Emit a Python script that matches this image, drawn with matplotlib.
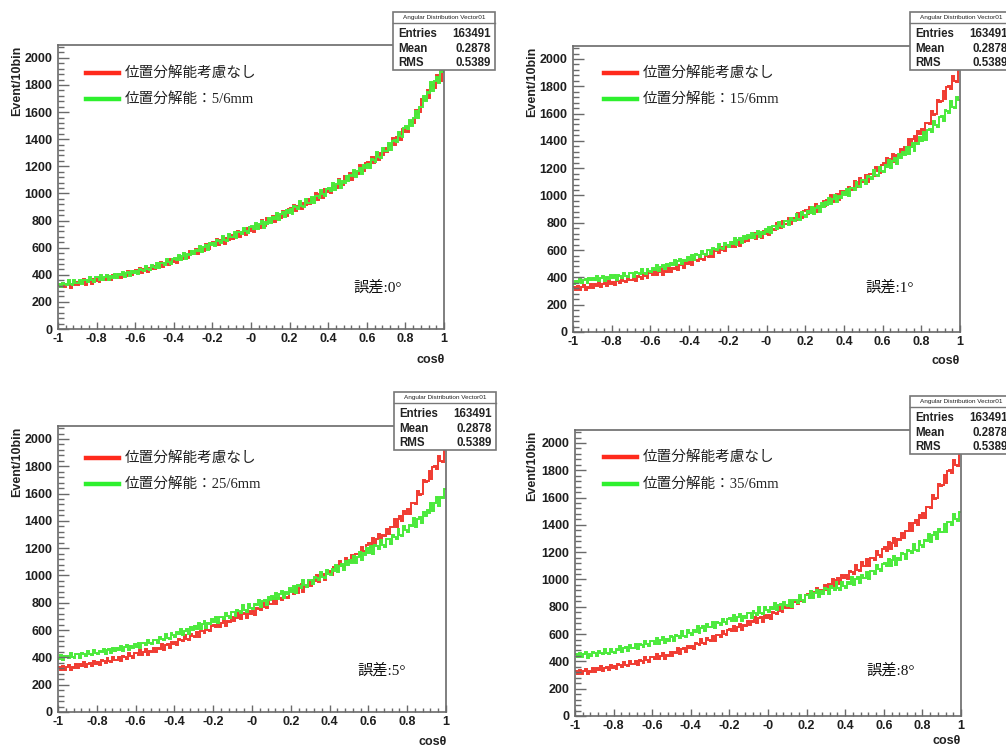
import numpy as np
import matplotlib
matplotlib.use("Agg")
import matplotlib.pyplot as plt
from matplotlib.patches import Rectangle
from matplotlib.lines import Line2D
from matplotlib.ticker import FixedLocator, FixedFormatter, MultipleLocator

W, H = 1006, 748

# cos(theta) binning: 200 bins between -1 and 1
bin_edges = np.linspace(-1.0, 1.0, 201)

# counts per bin, no position-resolution smearing (same in every panel)
no_resolution = [
    328, 310, 340, 307, 329, 344, 306, 333, 322, 348, 322, 348, 338, 366, 328, 355, 362, 334, 371, 354,
    368, 345, 379, 371, 360, 398, 370, 363, 400, 382, 378, 406, 373, 407, 405, 391, 429, 407, 398, 430,
    435, 416, 451, 416, 442, 459, 419, 449, 439, 468, 442, 472, 464, 496, 457, 489, 499, 470, 514, 496,
    516, 490, 535, 526, 517, 564, 534, 527, 575, 555, 552, 588, 550, 593, 592, 577, 624, 600, 591, 631,
    639, 619, 661, 622, 654, 676, 630, 669, 658, 695, 664, 699, 688, 726, 679, 715, 726, 691, 742, 721,
    743, 713, 765, 757, 746, 802, 767, 760, 816, 793, 790, 832, 788, 838, 837, 820, 874, 846, 835, 883,
    891, 868, 917, 872, 909, 935, 882, 926, 914, 957, 923, 966, 956, 1001, 949, 993, 1009, 970, 1030, 1008,
    1035, 1003, 1063, 1054, 1042, 1107, 1068, 1061, 1126, 1102, 1101, 1151, 1101, 1161, 1161, 1144, 1209, 1179, 1168, 1224,
    1235, 1212, 1271, 1222, 1268, 1301, 1244, 1297, 1286, 1338, 1302, 1358, 1352, 1412, 1355, 1413, 1437, 1396, 1474, 1453,
    1489, 1452, 1531, 1529, 1523, 1618, 1588, 1598, 1698, 1686, 1690, 1765, 1704, 1792, 1799, 1781, 1876, 1841, 1833, 1916,
]

# counts per bin with position resolution 5/6 mm (error 0 deg)
res_5_6mm = [
    333, 309, 343, 334, 323, 360, 332, 324, 361, 342, 337, 365, 330, 364, 360, 346, 382, 360, 349, 381,
    383, 365, 395, 362, 384, 399, 361, 388, 377, 403, 378, 404, 395, 423, 386, 413, 421, 393, 431, 414,
    430, 405, 444, 436, 426, 468, 439, 432, 475, 456, 452, 485, 449, 488, 486, 473, 515, 493, 483, 520,
    527, 508, 548, 511, 541, 562, 520, 555, 545, 579, 551, 585, 576, 612, 570, 605, 617, 586, 634, 616,
    637, 609, 657, 649, 638, 689, 656, 649, 701, 679, 676, 714, 672, 717, 715, 698, 748, 721, 710, 753,
    760, 738, 783, 740, 774, 798, 748, 789, 777, 817, 783, 823, 813, 855, 806, 846, 860, 824, 880, 859,
    884, 851, 907, 897, 884, 944, 906, 898, 958, 933, 930, 976, 928, 983, 982, 964, 1024, 994, 982, 1034,
    1043, 1020, 1074, 1027, 1068, 1098, 1043, 1092, 1080, 1127, 1092, 1137, 1127, 1176, 1121, 1169, 1186, 1145, 1210, 1187,
    1218, 1186, 1252, 1245, 1235, 1307, 1268, 1263, 1334, 1311, 1311, 1371, 1319, 1390, 1394, 1379, 1455, 1425, 1416, 1484,
    1499, 1474, 1545, 1495, 1555, 1606, 1556, 1636, 1640, 1718, 1679, 1750, 1743, 1820, 1754, 1829, 1862, 1816, 1918, 1894,
]

# counts per bin with position resolution 15/6 mm (error 1 deg)
res_15_6mm = [
    352, 377, 367, 394, 356, 382, 389, 360, 397, 379, 398, 380, 409, 376, 397, 412, 373, 400, 388, 414,
    392, 419, 384, 417, 413, 398, 434, 411, 400, 431, 429, 406, 441, 433, 423, 461, 434, 427, 465, 447,
    437, 466, 457, 488, 448, 479, 488, 458, 501, 482, 505, 488, 524, 490, 518, 537, 498, 530, 521, 552,
    531, 566, 527, 569, 567, 551, 597, 572, 562, 601, 600, 574, 618, 609, 599, 646, 615, 608, 655, 635,
    624, 659, 648, 686, 639, 675, 686, 651, 702, 681, 708, 687, 728, 687, 718, 740, 693, 731, 719, 755,
    730, 771, 726, 775, 773, 755, 808, 779, 767, 814, 813, 782, 833, 824, 812, 867, 831, 823, 878, 854,
    842, 884, 872, 917, 864, 907, 922, 882, 942, 918, 952, 930, 980, 935, 974, 1001, 949, 995, 983, 1027,
    1000, 1049, 998, 1057, 1056, 1038, 1102, 1071, 1059, 1114, 1115, 1083, 1143, 1134, 1122, 1187, 1148, 1141, 1206, 1182,
    1171, 1220, 1210, 1262, 1204, 1255, 1274, 1231, 1301, 1276, 1318, 1294, 1356, 1305, 1353, 1388, 1328, 1385, 1374, 1429,
    1400, 1462, 1407, 1481, 1485, 1467, 1547, 1514, 1505, 1575, 1581, 1544, 1623, 1616, 1605, 1690, 1645, 1640, 1725, 1698,
]

# counts per bin with position resolution 25/6 mm (error 5 deg)
res_25_6mm = [
    387, 414, 379, 412, 408, 393, 429, 406, 395, 426, 423, 399, 433, 424, 413, 450, 422, 414, 451, 432,
    422, 447, 437, 464, 426, 452, 459, 430, 467, 449, 470, 451, 485, 449, 475, 492, 451, 481, 470, 499,
    477, 508, 471, 508, 505, 490, 531, 507, 496, 531, 530, 504, 547, 538, 527, 574, 542, 535, 581, 561,
    550, 583, 572, 607, 563, 597, 607, 575, 621, 602, 629, 608, 650, 609, 641, 663, 617, 655, 644, 680,
    656, 694, 652, 697, 695, 678, 728, 701, 690, 733, 732, 700, 750, 740, 727, 781, 744, 735, 789, 764,
    753, 792, 781, 822, 772, 811, 824, 787, 842, 820, 851, 827, 875, 828, 865, 890, 836, 880, 866, 908,
    879, 924, 874, 928, 925, 906, 964, 933, 919, 970, 969, 935, 992, 981, 966, 1029, 987, 978, 1040, 1014,
    1002, 1045, 1033, 1080, 1023, 1069, 1084, 1041, 1104, 1079, 1114, 1089, 1146, 1095, 1139, 1170, 1111, 1162, 1149, 1199,
    1168, 1217, 1161, 1221, 1218, 1196, 1261, 1225, 1210, 1266, 1267, 1229, 1295, 1285, 1270, 1342, 1297, 1288, 1360, 1331,
    1318, 1373, 1361, 1420, 1355, 1411, 1432, 1384, 1462, 1434, 1482, 1458, 1530, 1476, 1532, 1574, 1510, 1576, 1566, 1630,
]

# counts per bin with position resolution 35/6 mm (error 8 deg)
res_35_6mm = [
    453, 434, 464, 430, 452, 466, 428, 454, 443, 468, 463, 439, 473, 464, 453, 490, 462, 454, 491, 472,
    462, 490, 480, 510, 469, 499, 507, 476, 518, 498, 497, 528, 490, 527, 523, 508, 548, 524, 512, 547,
    551, 530, 568, 529, 557, 576, 532, 565, 553, 585, 580, 553, 596, 586, 575, 621, 589, 581, 627, 606,
    594, 629, 618, 656, 609, 645, 656, 621, 672, 651, 650, 687, 643, 687, 683, 665, 713, 685, 672, 714,
    719, 695, 738, 693, 725, 747, 695, 734, 720, 758, 752, 719, 768, 757, 743, 796, 758, 748, 801, 775,
    762, 799, 786, 825, 773, 810, 821, 782, 835, 811, 808, 851, 800, 852, 848, 827, 884, 851, 836, 885,
    890, 865, 912, 864, 900, 924, 869, 912, 897, 938, 933, 897, 950, 937, 921, 978, 937, 926, 983, 955,
    941, 983, 970, 1016, 958, 1003, 1017, 973, 1035, 1009, 1010, 1058, 1006, 1064, 1062, 1043, 1106, 1074, 1061, 1115,
    1124, 1097, 1152, 1099, 1141, 1170, 1109, 1158, 1143, 1191, 1187, 1152, 1215, 1205, 1192, 1261, 1219, 1211, 1279, 1253,
    1240, 1291, 1280, 1335, 1273, 1326, 1345, 1299, 1372, 1346, 1349, 1408, 1350, 1421, 1422, 1401, 1478, 1442, 1430, 1497,
]

smeared_series = [res_5_6mm, res_15_6mm, res_25_6mm, res_35_6mm]
smeared_labels = ["位置分解能：5/6mm", "位置分解能：15/6mm", "位置分解能：25/6mm", "位置分解能：35/6mm"]
error_labels = ["誤差:0°", "誤差:1°", "誤差:5°", "誤差:8°"]
reference_label = "位置分解能考慮なし"

x_ticks = [-1.0, -0.8, -0.6, -0.4, -0.2, 0.0, 0.2, 0.4, 0.6, 0.8, 1.0]
x_tick_labels = ["-1", "-0.8", "-0.6", "-0.4", "-0.2", "-0", "0.2", "0.4", "0.6", "0.8", "1"]
y_ticks = [0, 200, 400, 600, 800, 1000, 1200, 1400, 1600, 1800, 2000]

stats_title = "Angular Distribution Vector01"
stats_names = ["Entries", "Mean", "RMS"]
stats_values = ["163491", "0.2878", "0.5389"]

RED = "#f03a30"
GREEN = "#4aea3a"
LEG_RED = "#ff2a1c"
LEG_GREEN = "#2ef02e"
FRAME = "#6a6a6a"

SANS = ["Liberation Sans", "DejaVu Sans"]
SERIF_JP = ["Liberation Serif", "Noto Sans CJK JP"]

# pixel layout of each pad: axes box (left, top, right, bottom), stats box corner,
# legend origin, error label position, axis-title positions
pads = [
    dict(box=(58, 45, 444, 329), stats=(393, 12), leg=(86, 73, 99), err=(353, 287), ytitle=17, xtitle=(445, 360)),
    dict(box=(573, 46, 960, 332), stats=(910, 12), leg=(604, 73, 99), err=(865, 287), ytitle=532, xtitle=(960, 361)),
    dict(box=(58, 426, 446, 712), stats=(394, 392), leg=(86, 458, 484), err=(357, 670), ytitle=17, xtitle=(447, 742)),
    dict(box=(575, 430, 961, 716), stats=(910, 396), leg=(604, 457, 484), err=(866, 670), ytitle=532, xtitle=(961, 741)),
]


def fx(px):
    return px / W


def fy(py):
    return 1.0 - py / H


fig = plt.figure(figsize=(W / 100, H / 100), dpi=100)
fig.patch.set_facecolor("white")

for pad, smeared, leg_text, err_text in zip(pads, smeared_series, smeared_labels, error_labels):
    l, t, r, b = pad["box"]
    ax = fig.add_axes([fx(l), fy(b), (r - l) / W, (b - t) / H])
    ax.stairs(no_resolution, bin_edges, color=RED, lw=1.4, baseline=None)
    ax.stairs(smeared, bin_edges, color=GREEN, lw=1.4, baseline=None)
    ax.set_xlim(-1.0, 1.0)
    ax.set_ylim(0, 2095)

    ax.xaxis.set_major_locator(FixedLocator(x_ticks))
    ax.xaxis.set_major_formatter(FixedFormatter(x_tick_labels))
    ax.xaxis.set_minor_locator(MultipleLocator(0.04))
    ax.yaxis.set_major_locator(FixedLocator(y_ticks))
    ax.yaxis.set_minor_locator(MultipleLocator(40))

    ax.tick_params(axis="y", which="major", direction="in", length=8, width=1.0,
                   color=FRAME, pad=4, labelsize=9)
    ax.tick_params(axis="y", which="minor", direction="in", length=4.3, width=1.0, color=FRAME)
    ax.tick_params(axis="x", which="major", direction="in", length=5, width=1.0,
                   color=FRAME, pad=3, labelsize=9)
    ax.tick_params(axis="x", which="minor", direction="in", length=2.8, width=1.0, color=FRAME)
    for lab in ax.get_xticklabels() + ax.get_yticklabels():
        lab.set_family(SANS)
        lab.set_fontweight("bold")
        lab.set_color("#1e1e1e")
    for sp in ax.spines.values():
        sp.set_color(FRAME)
        sp.set_linewidth(1.2)

    # legend drawn as figure-level artists
    lx, ly_red, ly_green = pad["leg"]
    fig.add_artist(Line2D([fx(lx), fx(lx + 33)], [fy(ly_red)] * 2, color=LEG_RED, lw=3.2,
                          transform=fig.transFigure, zorder=4))
    fig.add_artist(Line2D([fx(lx), fx(lx + 33)], [fy(ly_green)] * 2, color=LEG_GREEN, lw=3.2,
                          transform=fig.transFigure, zorder=4))
    fig.text(fx(lx + 39), fy(ly_red), reference_label, family=SERIF_JP, fontsize=10.5,
             ha="left", va="center", color="#222222", zorder=4)
    fig.text(fx(lx + 39), fy(ly_green), leg_text, family=SERIF_JP, fontsize=10.5,
             ha="left", va="center", color="#222222", zorder=4)

    # angular error label
    ex, ey = pad["err"]
    fig.text(fx(ex), fy(ey), err_text, family=SERIF_JP, fontsize=11,
             ha="left", va="center", color="#111111", zorder=4)

    # axis titles
    fig.text(fx(pad["ytitle"]), fy(t + 1), "Event/10bin", family=SANS, fontweight="bold",
             fontsize=9, rotation=90, ha="center", va="top", color="#222222")
    xt, yt = pad["xtitle"]
    fig.text(fx(xt), fy(yt), "cosθ", family=SANS, fontweight="bold", fontsize=9,
             ha="right", va="center", color="#222222")

    # statistics box
    sx, sy = pad["stats"]
    bw, bh = 102, 58
    fig.add_artist(Rectangle((fx(sx), fy(sy + bh)), bw / W, bh / H, transform=fig.transFigure,
                             facecolor="white", edgecolor="#777777", lw=1.2, zorder=5))
    fig.add_artist(Line2D([fx(sx), fx(sx + bw)], [fy(sy + 11)] * 2, color="#777777", lw=1.0,
                          transform=fig.transFigure, zorder=6))
    fig.text(fx(sx + bw / 2), fy(sy + 5.5), stats_title, family=SANS, fontsize=4.6,
             ha="center", va="center", color="#222222", zorder=6)
    for i, (name, val) in enumerate(zip(stats_names, stats_values)):
        yy = fy(sy + 22 + i * 14.5)
        fig.text(fx(sx + 5), yy, name, family=SANS, fontweight="bold", fontsize=8.3,
                 ha="left", va="center", color="#222222", zorder=6)
        fig.text(fx(sx + bw - 4), yy, val, family=SANS, fontweight="bold", fontsize=8.3,
                 ha="right", va="center", color="#222222", zorder=6)

fig.savefig("out.png", dpi=100, facecolor="white")
